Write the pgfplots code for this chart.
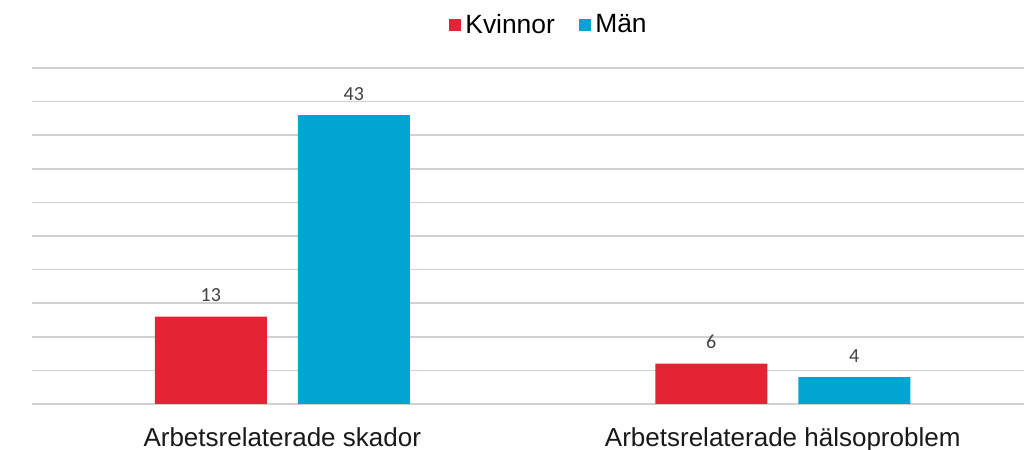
\documentclass[border=0pt]{standalone}
\usepackage{fontspec}
\setmainfont{Liberation Sans}
\newfontfamily\carlito{Carlito}
\usepackage{pgfplots}
\pgfplotsset{compat=1.18}
\definecolor{kred}{RGB}{228,35,52}
\definecolor{mblue}{RGB}{0,165,209}
\definecolor{gridc}{RGB}{208,208,208}
\definecolor{lbl}{RGB}{64,64,64}
\begin{document}
\begin{tikzpicture}
\begin{axis}[
  scale only axis,
  width=496pt, height=168pt,
  xmin=-0.5, xmax=1.482,
  ymin=0, ymax=50,
  ybar=15.5pt, bar width=56pt,
  axis line style={draw=none},
  major tick length=0pt,
  ymajorgrids,
  grid style={gridc, line width=0.8pt},
  ytick={0,5,...,50},
  yticklabels={},
  xtick={0,1},
  xticklabels={Arbetsrelaterade skador, Arbetsrelaterade hälsoproblem},
  x tick label style={font=\fontsize{13}{15}\selectfont, text=black!90, anchor=base, yshift=-21.5pt},
  /pgf/number format/assume math mode=true,
  nodes near coords,
  nodes near coords style={font=\carlito\fontsize{10}{12}\selectfont, text=lbl, anchor=base, yshift=7.5pt},
  legend style={at={(0.522,1)}, anchor=center, yshift=21.5pt, draw=none, fill=none,
    font=\fontsize{13.2}{15}\selectfont, legend columns=2,
    /tikz/every even column/.append style={column sep=10pt}},
  legend cell align=left,
]
\addplot[fill=kred, draw=none, legend image code/.code={\fill[kred] (0pt,-3.2pt) rectangle (6.2pt,3pt);}] coordinates {(0,13) (1,6)};
\addplot[fill=mblue, draw=none, legend image code/.code={\fill[mblue] (0pt,-3.2pt) rectangle (6.2pt,3pt);}] coordinates {(0,43) (1,4)};
\legend{Kvinnor, Män}
\end{axis}
\pgfresetboundingbox
\path (-16pt,-23pt) rectangle (496pt,202pt);
\end{tikzpicture}
\end{document}
